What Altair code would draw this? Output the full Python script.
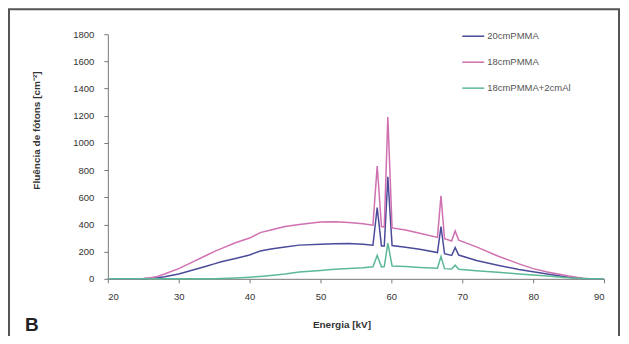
import altair as alt
import pandas as pd

energy = [20, 24, 25, 26, 27, 28, 30, 32, 34, 35, 36, 38, 40, 41.5, 43, 45, 47, 50, 52, 54, 56,
          57.4, 58.0, 58.6, 59.0, 59.5, 60.1, 62, 64, 66.5, 67.0, 67.5, 68.5, 69.0, 69.5,
          72, 75, 78, 80, 82, 85, 87, 88, 90]

s20 = [0, 0, 1, 4, 8, 15, 35, 65, 95, 110, 125, 150, 176, 205, 220, 235, 248, 255, 258, 260, 255,
       247, 525, 242, 242, 750, 245, 232, 218, 193, 385, 185, 172, 230, 175,
       135, 100, 68, 52, 35, 12, 3, 0, 0]

s18 = [0, 0, 2, 8, 18, 35, 75, 125, 175, 200, 222, 265, 300, 340, 360, 385, 400, 418, 420, 415, 405,
       395, 830, 385, 382, 1190, 375, 360, 335, 305, 610, 295, 278, 352, 285,
       235, 168, 110, 75, 50, 20, 5, 0, 0]

s18al = [0, 0, 0, 0, 0, 0, 0, 0, 0, 0, 2, 6, 12, 18, 25, 35, 50, 62, 70, 76, 82,
         88, 172, 88, 90, 262, 95, 90, 84, 78, 164, 75, 72, 100, 70,
         60, 48, 36, 28, 20, 8, 3, 0, 0]

series_names = ["20cmPMMA", "18cmPMMA", "18cmPMMA+2cmAl"]
colors = ["#4b4b9b", "#d070b0", "#5cb896"]
x_ticks = [20, 30, 40, 50, 60, 70, 80, 90]
y_ticks = [0, 200, 400, 600, 800, 1000, 1200, 1400, 1600, 1800]

rows = []
for name, vals in zip(series_names, [s20, s18, s18al]):
    for e, v in zip(energy, vals):
        rows.append({"Energia": e, "Fluencia": v, "Serie": name})
df = pd.DataFrame(rows)

FONT = "Liberation Sans"

lines = alt.Chart(df).mark_line(strokeWidth=1.5).encode(
    x=alt.X("Energia:Q",
            scale=alt.Scale(domain=[20, 90], nice=False, zero=False),
            axis=alt.Axis(values=x_ticks, format="d", title="Energia [kV]", grid=False,
                          domainColor="#777", tickColor="#777", tickSize=4,
                          labelColor="#333", labelFontSize=9.5, labelFont=FONT, labelPadding=9,
                          titleFont=FONT, titleFontSize=10, titleFontWeight="bold", titleColor="#333",
                          titleX=234, titleY=46, titleBaseline="middle")),
    y=alt.Y("Fluencia:Q",
            scale=alt.Scale(domain=[0, 1800], nice=False),
            axis=alt.Axis(values=y_ticks, format="d", title="Fluência de fótons [cm⁻²]", grid=False,
                          domainColor="#777", tickColor="#777", tickSize=4,
                          labelColor="#333", labelFontSize=9.5, labelFont=FONT, labelPadding=10,
                          titleFont=FONT, titleFontSize=10, titleFontWeight="bold", titleColor="#333",
                          titleX=-71, titleY=96, titleBaseline="middle", titleAlign="center")),
    color=alt.Color("Serie:N", sort=series_names,
                    scale=alt.Scale(domain=series_names, range=colors),
                    legend=alt.Legend(title=None, orient="none", legendX=354, legendY=-10,
                                      symbolType="stroke", symbolSize=484, symbolStrokeWidth=1.5,
                                      labelFont=FONT, labelFontSize=9.5, labelColor="#555",
                                      labelOffset=2, rowPadding=9, padding=0)),
)

label_b = alt.Chart(pd.DataFrame({"t": ["B"]})).mark_text(
    font=FONT, fontSize=19, fontWeight="bold", color="#222", align="left", baseline="bottom"
).encode(text="t:N", x=alt.value(-83), y=alt.value(301))

frame = alt.Chart(pd.DataFrame({"t": [0]})).mark_rect(
    fillOpacity=0, stroke="#555", strokeWidth=2
).encode(x=alt.value(-99), x2=alt.value(512), y=alt.value(-25), y2=alt.value(320))

chart = alt.layer(frame, lines, label_b).properties(
    width=497, height=245,
    autosize=alt.AutoSizeParams(type="none"),
    padding={"left": 100, "top": 26, "right": 17, "bottom": 57},
).configure_view(stroke=None)

chart.save("out.html", embed_options={"renderer": "svg", "actions": False})
